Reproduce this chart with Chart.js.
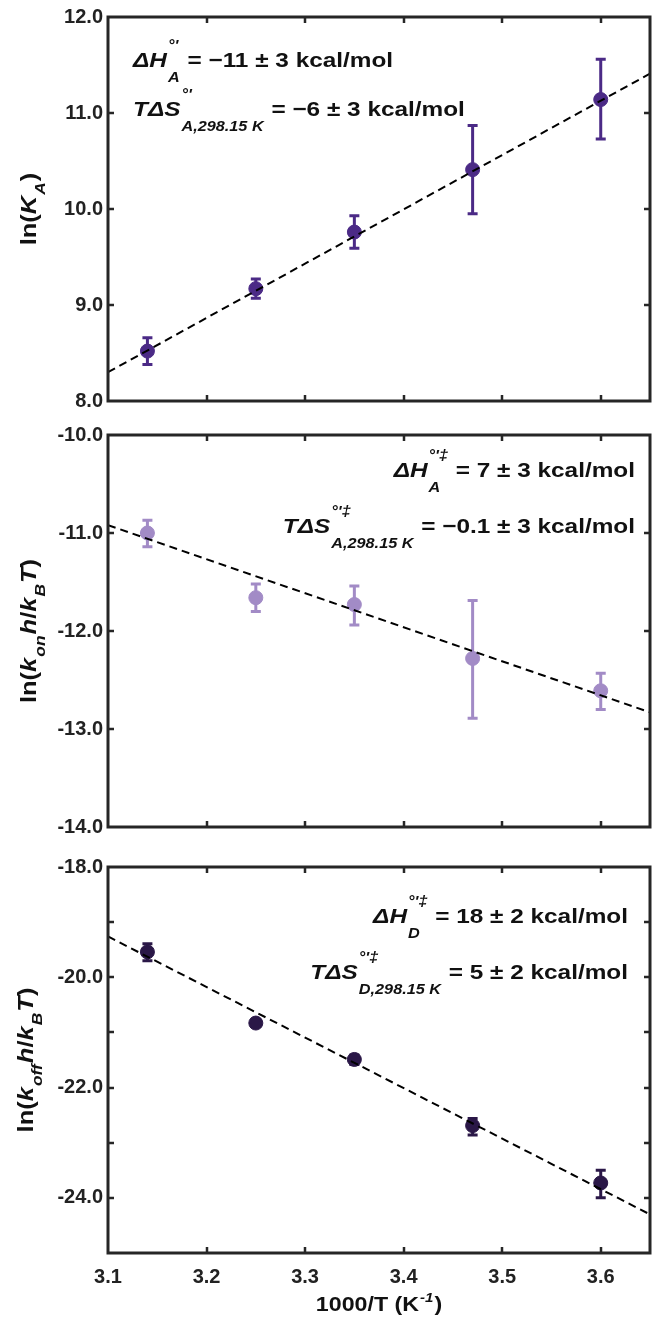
<!DOCTYPE html>
<html>
<head>
<meta charset="utf-8">
<script src="https://cdn.jsdelivr.net/npm/chart.js@4.4.0/dist/chart.umd.min.js"></script>
<style>
  body { margin: 0; background: #fff; }
  canvas { position: absolute; left: 0; }
</style>
</head>
<body>
<canvas id="c1" width="661" height="418" style="top:0px"></canvas>
<canvas id="c2" width="661" height="432" style="top:418px"></canvas>
<canvas id="c3" width="661" height="478" style="top:850px"></canvas>
<script>
// 1000/T values (K^-1)
var xVals = [3.14, 3.25, 3.35, 3.47, 3.60];
var fitX = [3.1, 3.65];

// ln(K_A)
var kaY = [8.52, 9.17, 9.76, 10.41, 11.14];
var kaLo = [8.38, 9.07, 9.59, 9.95, 10.73];
var kaHi = [8.66, 9.27, 9.93, 10.87, 11.56];
var kaFit = [8.30, 11.41];

// ln(k_on h / k_B T)
var konY = [-11.00, -11.66, -11.73, -12.28, -12.61];
var konLo = [-11.14, -11.80, -11.94, -12.89, -12.80];
var konHi = [-10.87, -11.52, -11.54, -11.69, -12.43];
var konFit = [-10.92, -12.83];

// ln(k_off h / k_B T)
var koffY = [-19.54, -20.83, -21.49, -22.69, -23.73];
var koffLo = [-19.70, -20.88, -21.58, -22.86, -24.00];
var koffHi = [-19.39, -20.78, -21.41, -22.56, -23.50];
var koffFit = [-19.26, -24.30];

var xTicks = [3.1, 3.2, 3.3, 3.4, 3.5, 3.6];

var FONT = '"Liberation Sans", Arial, sans-serif';
var SX = 1.16; // the figure's text is a bit wider than Arial
function fnt(it, size) { return (it ? 'italic ' : '') + 'bold ' + size + 'px ' + FONT; }

// rich text: segments are {t, it} or {sup, sub}
function segW(ctx, s, big, small) {
  if (s.t !== undefined) { ctx.font = fnt(s.it, big); return ctx.measureText(s.t).width * SX; }
  ctx.font = fnt(true, small);
  return Math.max(ctx.measureText(s.sup || '').width, ctx.measureText(s.sub || '').width) * SX + 2;
}
function putText(ctx, t, x, y) {
  ctx.save();
  ctx.translate(x, y);
  ctx.scale(SX, 1);
  ctx.fillText(t, 0, 0);
  ctx.restore();
}
function drawRich(ctx, segs, x, y, align, big, small, subOff, supOff) {
  var total = 0;
  segs.forEach(function(s) { total += segW(ctx, s, big, small); });
  if (align === 'right') x -= total;
  if (align === 'center') x -= total / 2;
  ctx.textAlign = 'left';
  ctx.textBaseline = 'alphabetic';
  ctx.fillStyle = '#111';
  segs.forEach(function(s) {
    var w = segW(ctx, s, big, small);
    if (s.t !== undefined) {
      ctx.font = fnt(s.it, big);
      putText(ctx, s.t, x, y);
    } else {
      ctx.font = fnt(true, small);
      if (s.sup) putText(ctx, s.sup, x + 1, y - big * supOff);
      if (s.sub) putText(ctx, s.sub, x + 1, y + big * subOff);
    }
    x += w;
  });
}

function makePanel(id, p) {
  var pts = xVals.map(function(x, i) { return {x: x, y: p.y[i]}; });
  var fit = fitX.map(function(x, i) { return {x: x, y: p.fit[i]}; });
  var extras = {
    id: 'extras',
    beforeDatasetsDraw: function(chart) {
      var ctx = chart.ctx, xs = chart.scales.x, ys = chart.scales.y;
      ctx.save();
      ctx.strokeStyle = p.color;
      ctx.lineWidth = 3;
      for (var i = 0; i < xVals.length; i++) {
        var px = xs.getPixelForValue(xVals[i]);
        var lo = ys.getPixelForValue(p.lo[i]), hi = ys.getPixelForValue(p.hi[i]);
        ctx.beginPath();
        ctx.moveTo(px, lo); ctx.lineTo(px, hi);
        ctx.moveTo(px - 5, lo); ctx.lineTo(px + 5, lo);
        ctx.moveTo(px - 5, hi); ctx.lineTo(px + 5, hi);
        ctx.stroke();
      }
      ctx.restore();
    },
    afterDraw: function(chart) {
      var ctx = chart.ctx, a = chart.chartArea, xs = chart.scales.x, ys = chart.scales.y;
      ctx.save();
      ctx.strokeStyle = '#262626';
      ctx.lineWidth = 2.5;
      ys.ticks.forEach(function(t) {
        if (t.value <= ys.min || t.value >= ys.max) return;
        var py = Math.round(ys.getPixelForValue(t.value));
        ctx.beginPath();
        ctx.moveTo(a.left, py); ctx.lineTo(a.left + 6, py);
        ctx.moveTo(a.right, py); ctx.lineTo(a.right - 6, py);
        ctx.stroke();
      });
      xTicks.forEach(function(v) {
        if (v <= xs.min || v >= xs.max) return;
        var px = Math.round(xs.getPixelForValue(v));
        ctx.beginPath();
        ctx.moveTo(px, a.top); ctx.lineTo(px, a.top + 6);
        ctx.moveTo(px, a.bottom); ctx.lineTo(px, a.bottom - 6);
        ctx.stroke();
      });
      ctx.lineWidth = 3;
      ctx.strokeRect(a.left, a.top, a.right - a.left, a.bottom - a.top);

      p.notes.forEach(function(n) {
        var x = n.align === 'right' ? a.right + n.dx : a.left + n.dx;
        drawRich(ctx, n.segs, x, a.top + n.dy, n.align, 21, 14, 0.7, 0.82);
      });

      ctx.save();
      ctx.translate(p.titleX, (a.top + a.bottom) / 2);
      ctx.rotate(-Math.PI / 2);
      drawRich(ctx, p.title, 0, 0, 'center', 22, 15, 0.4, 0.6);
      ctx.restore();

      if (p.xTitle) {
        drawRich(ctx, p.xTitle, (a.left + a.right) / 2, a.bottom + 58, 'center', 20, 13, 0.4, 0.45);
      }
      ctx.restore();
    }
  };

  return new Chart(document.getElementById(id), {
    type: 'scatter',
    data: {
      datasets: [
        {
          type: 'line',
          data: fit,
          borderColor: '#000',
          borderWidth: 2,
          borderDash: [8, 5],
          pointRadius: 0,
          fill: false
        },
        {
          data: pts,
          backgroundColor: p.color,
          borderColor: p.color,
          pointRadius: 7,
          pointHoverRadius: 7
        }
      ]
    },
    options: {
      responsive: false,
      animation: false,
      events: [],
      layout: { padding: { top: p.padTop, right: 11, left: 0, bottom: 0 } },
      plugins: { legend: { display: false }, tooltip: { enabled: false } },
      scales: {
        x: {
          type: 'linear',
          min: 3.1,
          max: 3.65,
          grid: { display: false, drawTicks: false },
          border: { display: false },
          afterBuildTicks: function(s) { s.ticks = xTicks.map(function(v) { return {value: v}; }); },
          afterFit: function(s) { s.height = p.xHeight; },
          ticks: {
            display: !!p.xTitle,
            padding: 12,
            color: '#222',
            font: { family: FONT, size: 20, weight: 'bold' },
            callback: function(v) { return v.toFixed(1); }
          }
        },
        y: {
          min: p.yMin,
          max: p.yMax,
          grid: { display: false, drawTicks: false },
          border: { display: false },
          afterFit: function(s) { s.width = 108; },
          ticks: {
            stepSize: 1,
            padding: 5,
            color: '#222',
            font: { family: FONT, size: 20, weight: 'bold' },
            callback: function(v) { return (v % p.labelEvery === 0) ? v.toFixed(1) : ''; }
          }
        }
      }
    },
    plugins: [extras]
  });
}

makePanel('c1', {
  y: kaY, lo: kaLo, hi: kaHi, fit: kaFit,
  color: '#4b2a86', yMin: 8, yMax: 12, labelEvery: 1,
  padTop: 14, xHeight: 14, titleX: 36,
  title: [{t: 'ln('}, {t: 'K', it: true}, {sub: 'A'}, {t: ')'}],
  notes: [
    {align: 'left', dx: 25, dy: 50, segs: [{t: 'ΔH', it: true}, {sup: "°'", sub: 'A'}, {t: ' = −11 ± 3 kcal/mol'}]},
    {align: 'left', dx: 25, dy: 99, segs: [{t: 'TΔS', it: true}, {sup: "°'", sub: 'A,298.15 K'}, {t: ' = −6 ± 3 kcal/mol'}]}
  ]
});

makePanel('c2', {
  y: konY, lo: konLo, hi: konHi, fit: konFit,
  color: '#a28bc6', yMin: -14, yMax: -10, labelEvery: 1,
  padTop: 14, xHeight: 23, titleX: 36,
  title: [{t: 'ln('}, {t: 'k', it: true}, {sub: 'on'}, {t: 'h', it: true}, {t: '/'}, {t: 'k', it: true}, {sub: 'B'}, {t: 'T', it: true}, {t: ')'}],
  notes: [
    {align: 'right', dx: -15, dy: 42, segs: [{t: 'ΔH', it: true}, {sup: "°'‡", sub: 'A'}, {t: ' = 7 ± 3 kcal/mol'}]},
    {align: 'right', dx: -15, dy: 98, segs: [{t: 'TΔS', it: true}, {sup: "°'‡", sub: 'A,298.15 K'}, {t: ' = −0.1 ± 3 kcal/mol'}]}
  ]
});

makePanel('c3', {
  y: koffY, lo: koffLo, hi: koffHi, fit: koffFit,
  color: '#2a1747', yMin: -25, yMax: -18, labelEvery: 2,
  padTop: 17, xHeight: 75, titleX: 33,
  title: [{t: 'ln('}, {t: 'k', it: true}, {sub: 'off'}, {t: 'h', it: true}, {t: '/'}, {t: 'k', it: true}, {sub: 'B'}, {t: 'T', it: true}, {t: ')'}],
  xTitle: [{t: '1000/T (K'}, {sup: '-1'}, {t: ')'}],
  notes: [
    {align: 'right', dx: -22, dy: 56, segs: [{t: 'ΔH', it: true}, {sup: "°'‡", sub: 'D'}, {t: ' = 18 ± 2 kcal/mol'}]},
    {align: 'right', dx: -22, dy: 112, segs: [{t: 'TΔS', it: true}, {sup: "°'‡", sub: 'D,298.15 K'}, {t: ' = 5 ± 2 kcal/mol'}]}
  ]
});
</script>
</body>
</html>
